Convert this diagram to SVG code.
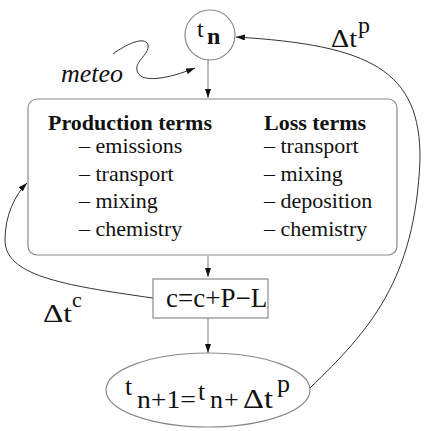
<svg xmlns="http://www.w3.org/2000/svg" width="427" height="431" viewBox="0 0 427 431">
<defs>
<marker id="ah" markerWidth="9" markerHeight="6" refX="9" refY="3" orient="auto" markerUnits="userSpaceOnUse">
<path d="M0,0 L9,3 L0,6 z" fill="#111"/>
</marker>
<style>
.t{font-family:"Liberation Serif","Times New Roman",serif;fill:#111}
.shape{fill:none;stroke:#8a8a8a;stroke-width:1.2}
.conn{fill:none;stroke:#777;stroke-width:1}
.curve{fill:none;stroke:#333;stroke-width:1}
</style>
</defs>
<rect width="427" height="431" fill="#fff"/>
<g id="connectors">
<line class="conn" x1="208" y1="59" x2="208" y2="98" marker-end="url(#ah)"/>
<line class="conn" x1="208" y1="256" x2="208" y2="277" marker-end="url(#ah)"/>
<line class="conn" x1="208" y1="318" x2="208" y2="353" marker-end="url(#ah)"/>
<path class="curve" d="M113 54 C125 45,145 35,148 45 C150 55,132 62,138 73 C143 82,165 80,195 68" marker-end="url(#ah)"/>
<path class="curve" d="M153 298 C60 285,5 275,5 240 C5 215,15 195,27 183" marker-end="url(#ah)"/>
<path class="curve" d="M310 388 C370 330,415 280,420 160 C421 70,370 45,236 37" marker-end="url(#ah)"/>
<text class="t" x="331" y="47" font-size="25" textLength="26" lengthAdjust="spacingAndGlyphs">Δt</text>
<text class="t" x="358" y="33" font-size="24">p</text>
<text class="t" x="43" y="322" font-size="26" textLength="29" lengthAdjust="spacingAndGlyphs">Δt</text>
<text class="t" x="72" y="307" font-size="22">c</text>
<text class="t" x="61" y="82" font-size="26" font-style="italic">meteo</text>
</g>
<g id="tn">
<circle class="shape" cx="210" cy="35" r="25"/>
<text class="t" x="197" y="37" font-size="24">t</text>
<text class="t" x="207" y="44" font-size="24" font-weight="bold">n</text>
</g>
<g id="terms">
<rect class="shape" x="28" y="99" width="369" height="156" rx="9"/>
<text class="t" x="48" y="130" font-size="22" font-weight="bold">Production terms</text>
<text class="t" x="79" y="153" font-size="22">– emissions</text>
<text class="t" x="79" y="180.5" font-size="22">– transport</text>
<text class="t" x="79" y="208" font-size="22">– mixing</text>
<text class="t" x="79" y="235.5" font-size="22">– chemistry</text>
<text class="t" x="264" y="130" font-size="22" font-weight="bold">Loss terms</text>
<text class="t" x="264" y="153" font-size="22">– transport</text>
<text class="t" x="264" y="180.5" font-size="22">– mixing</text>
<text class="t" x="264" y="208" font-size="22">– deposition</text>
<text class="t" x="264" y="235.5" font-size="22">– chemistry</text>
</g>
<g id="update">
<rect class="shape" x="153" y="279" width="115" height="39"/>
<text class="t" x="166" y="307" font-size="27">c=c+P−L</text>
</g>
<g id="tn1">
<ellipse class="shape" cx="208" cy="390" rx="102" ry="37"/>
<text class="t" x="125" y="395" font-size="26">t</text>
<text class="t" x="137" y="408" font-size="26" textLength="59" lengthAdjust="spacingAndGlyphs">n+1=</text>
<text class="t" x="198" y="400" font-size="26">t</text>
<text class="t" x="210" y="408" font-size="26">n</text>
<text class="t" x="224" y="408" font-size="26">+</text>
<text class="t" x="243" y="408" font-size="27" textLength="30" lengthAdjust="spacingAndGlyphs">Δt</text>
<text class="t" x="277" y="392" font-size="26">p</text>
</g>
</svg>
